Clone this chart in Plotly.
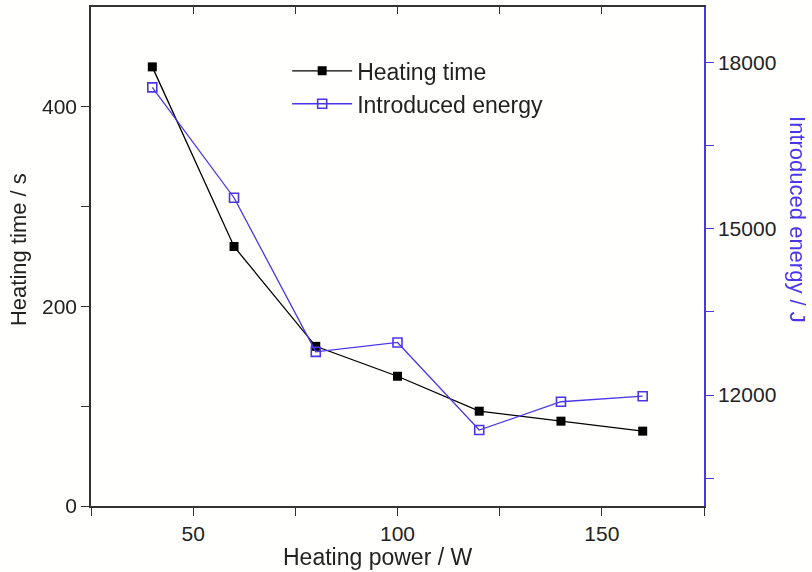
import plotly.graph_objects as go

power = [40, 60, 80, 100, 120, 140, 160]
heating_time = [440, 260, 160, 130, 95, 85, 75]
energy = [17550, 15560, 12780, 12950, 11370, 11880, 11980]

BLUE = "#4a36e8"
FONT = "Liberation Sans, Arial, sans-serif"
TXT = "#222222"

fig = go.Figure()
fig.add_trace(go.Scatter(
    x=power, y=heating_time, name="Heating time", mode="lines+markers",
    line=dict(color="black", width=1.3),
    marker=dict(symbol="square", size=9, color="black"),
    xaxis="x", yaxis="y"))
fig.add_trace(go.Scatter(
    x=power, y=energy, name="Introduced energy", mode="lines+markers",
    line=dict(color=BLUE, width=1.3),
    marker=dict(symbol="square-open", size=9, color=BLUE, line=dict(width=1.6)),
    xaxis="x", yaxis="y2"))
# invisible helper so the mirrored top axis is drawn
fig.add_trace(go.Scatter(
    x=power, y=heating_time, mode="markers", opacity=0, showlegend=False,
    hoverinfo="skip", xaxis="x2", yaxis="y"))

fig.update_layout(
    width=812, height=572,
    margin=dict(l=91, r=108, t=7, b=66),
    paper_bgcolor="#fffffd", plot_bgcolor="#fffffd",
    font=dict(family=FONT, size=21, color=TXT),
    showlegend=True,
    legend=dict(x=0.32, y=0.915, xanchor="left", yanchor="top",
                bgcolor="rgba(0,0,0,0)", font=dict(size=23, color=TXT),
                tracegroupgap=0, itemwidth=60),
    xaxis=dict(range=[25, 175], tickvals=[25, 50, 75, 100, 125, 150, 175],
               ticktext=["", "50", "", "100", "", "150", ""],
               ticks="outside", ticklen=8, tickwidth=1.3, tickcolor="#333",
               showline=True, linecolor="#333", linewidth=1.5,
               showgrid=False, zeroline=False),
    xaxis2=dict(range=[25, 175], overlaying="x", side="top", anchor="y",
                tickvals=[50, 75, 100, 125, 150], showticklabels=False,
                ticks="inside", ticklen=7, tickwidth=1.3, tickcolor="#333",
                showline=True, linecolor="#333", linewidth=1.5,
                showgrid=False, zeroline=False),
    yaxis=dict(range=[0, 500], tickvals=[0, 100, 200, 300, 400],
               ticktext=["0", "", "200", "", "400"],
               ticks="outside", ticklen=8, tickwidth=1.3, tickcolor="#333",
               showline=True, linecolor="#333", linewidth=1.5,
               showgrid=False, zeroline=False),
    yaxis2=dict(range=[10000, 19000], overlaying="y", side="right", anchor="x",
                tickvals=[10500, 12000, 13500, 15000, 16500, 18000],
                ticktext=["", "12000", "", "15000", "", "18000"],
                ticks="outside", ticklen=8, tickwidth=1.3, tickcolor=BLUE,
                showline=True, linecolor=BLUE, linewidth=1.5,
                tickfont=dict(color=TXT),
                showgrid=False, zeroline=False),
    annotations=[
        dict(text="Heating power / W", xref="paper", yref="paper",
             x=0.467, y=0, yshift=-51, showarrow=False, xanchor="center",
             yanchor="middle", font=dict(size=23, color=TXT)),
        dict(text="Heating time / s", xref="paper", yref="paper",
             x=0, xshift=-73, y=0.513, showarrow=False, textangle=-90,
             xanchor="center", yanchor="middle", font=dict(size=22, color=TXT)),
        dict(text="Introduced energy / J", xref="paper", yref="paper",
             x=1, xshift=94, y=0.575, showarrow=False, textangle=90,
             xanchor="center", yanchor="middle", font=dict(size=22, color=BLUE)),
    ],
)

fig.write_html("out.html")
